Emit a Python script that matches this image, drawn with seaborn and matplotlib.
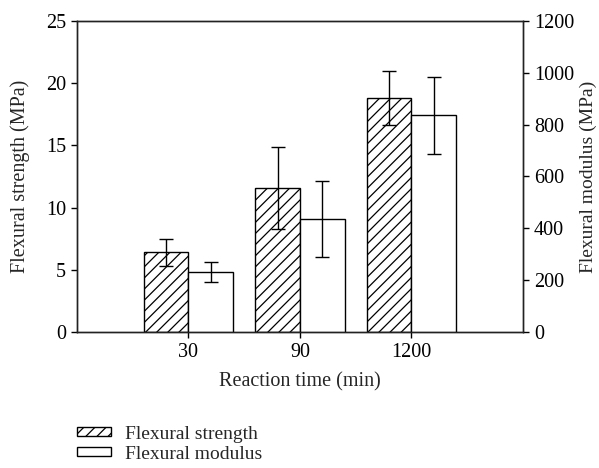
#!/usr/bin/env python3
"""Flexural strength / modulus vs reaction time - grouped bars on twin axes"""

import numpy as np
import pandas as pd
import matplotlib
matplotlib.use('Agg')
import matplotlib.pyplot as plt
import seaborn as sns
from matplotlib.patches import Patch

# Data
times = ['30', '90', '1200']
strength = [6.4, 11.6, 18.8]          # MPa
strength_err = [1.1, 3.3, 2.2]
modulus = [231, 437, 835]             # MPa
modulus_err = [40, 146, 147]
series = ['Flexural strength', 'Flexural modulus']

sns.set_style('ticks')
plt.rcParams['font.family'] = ['Liberation Serif', 'DejaVu Serif']
plt.rcParams['hatch.linewidth'] = 0.9
plt.rcParams['axes.edgecolor'] = '#222222'

df_s = pd.DataFrame({'time': times, 'value': strength, 'series': series[0]})
df_m = pd.DataFrame({'time': times, 'value': modulus, 'series': series[1]})

fig = plt.figure(figsize=(5.99, 4.68), dpi=100)
ax = fig.add_axes([0.1285, 0.2906, 0.7446, 0.665])
ax2 = ax.twinx()

sns.barplot(data=df_s, x='time', y='value', hue='series', hue_order=series,
            order=times, ax=ax, width=0.8, dodge=True, errorbar=None, legend=False,
            palette=['white', 'white'], edgecolor='black', linewidth=1.0,
            hatch='///', saturation=1)
sns.barplot(data=df_m, x='time', y='value', hue='series', hue_order=series,
            order=times, ax=ax2, width=0.8, dodge=True, errorbar=None, legend=False,
            palette=['white', 'white'], edgecolor='black', linewidth=1.0,
            saturation=1)

# error bars at the bar centres
for a, vals, errs in [(ax, strength, strength_err), (ax2, modulus, modulus_err)]:
    xs = [p.get_x() + p.get_width() / 2 for p in a.patches]
    a.errorbar(xs, vals, yerr=errs, fmt='none', ecolor='black',
               elinewidth=1.0, capsize=5, capthick=1.0, zorder=5)

ax.set_xlim(-1, 3)
ax.set_ylim(0, 25)
ax2.set_ylim(0, 1200)
ax.set_yticks([0, 5, 10, 15, 20, 25])
ax2.set_yticks([0, 200, 400, 600, 800, 1000, 1200])

ax.set_xlabel('Reaction time (min)', fontsize=14.5, labelpad=7)
ax.set_ylabel('Flexural strength (MPa)', fontsize=14.5, labelpad=11)
ax2.set_ylabel('Flexural modulus (MPa)', fontsize=14, labelpad=4)

for a in (ax, ax2):
    a.tick_params(labelsize=14.5, direction='out', length=4, width=1,
                  colors='black', pad=4)
    for sp in a.spines.values():
        sp.set_visible(True)
        sp.set_linewidth(1.0)
ax.tick_params(top=False)

handles = [Patch(facecolor='white', edgecolor='black', hatch='///', label=series[0]),
           Patch(facecolor='white', edgecolor='black', label=series[1])]
fig.legend(handles=handles, loc='upper left', bbox_to_anchor=(0.128, 0.09),
           frameon=False, fontsize=14, handlelength=1.75, handleheight=0.35,
           labelspacing=0.15, handletextpad=0.75, borderpad=0, borderaxespad=0)

fig.savefig('out.png', dpi=100)
plt.close(fig)
